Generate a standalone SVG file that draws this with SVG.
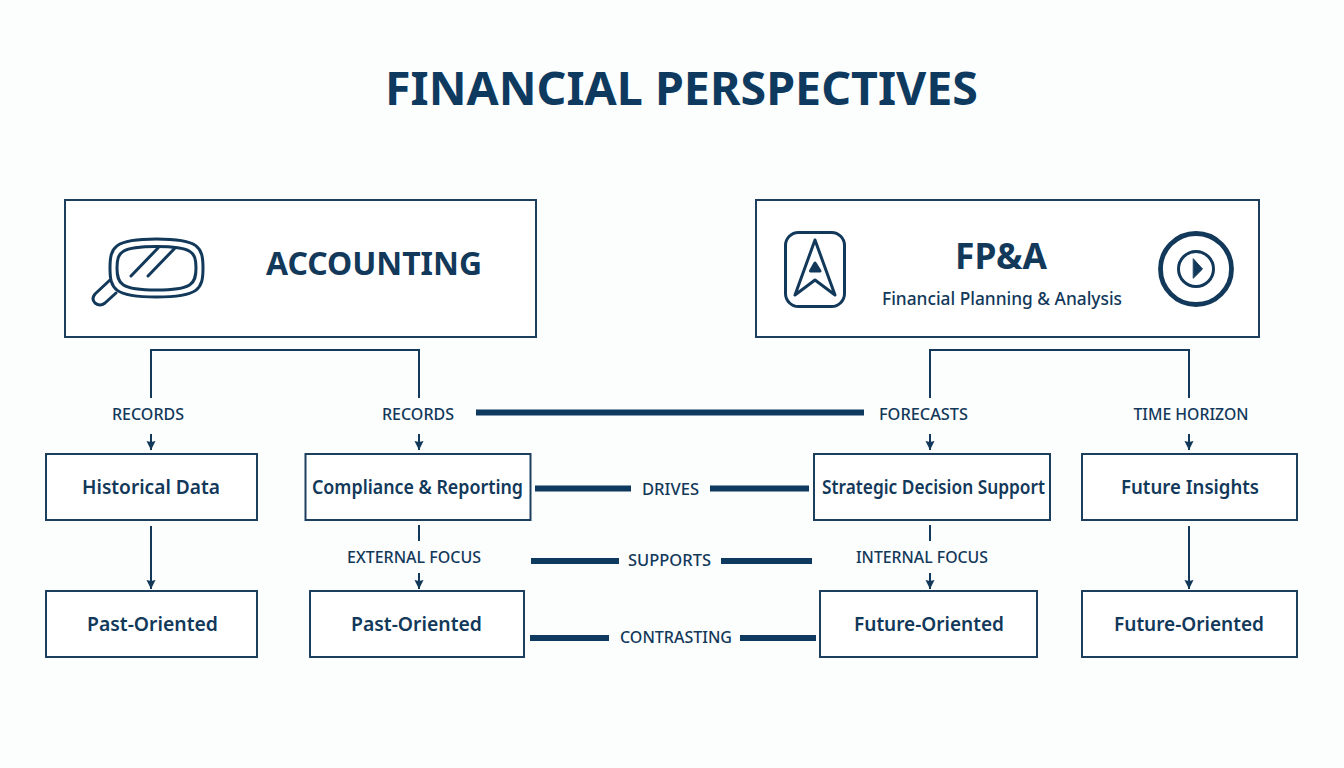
<svg xmlns="http://www.w3.org/2000/svg" width="1344" height="768" viewBox="0 0 1344 768">
<style>
text{font-family:"Noto Sans","Open Sans","Liberation Sans",sans-serif;fill:#12385a;text-anchor:middle}
.box{fill:#fff;stroke:#1c3f5e;stroke-width:2}
.n{font-size:19.500px;font-weight:600}
.l{font-size:16px;font-weight:500}
.t{fill:none;stroke:#12385a;stroke-width:2}
.b{fill:none;stroke:#0f3a5f;stroke-width:6}
.i{fill:none;stroke:#12385a;stroke-width:3;stroke-linejoin:round;stroke-linecap:round}
</style>
<defs><marker id="a" markerUnits="userSpaceOnUse" markerWidth="10" markerHeight="10" refX="9" refY="5" orient="auto"><path d="M0 .5L9 5L0 9.500L1 5Z" fill="#12385a"/></marker></defs>
<rect width="1344" height="768" fill="#fcfdfd"/>
<text id="title" x="681.500" y="105" font-size="46" font-weight="700" textLength="593" lengthAdjust="spacingAndGlyphs" style="fill:#0f3a5f">FINANCIAL PERSPECTIVES</text>
<g id="connectors">
<path class="t" d="M151 398V350H419V398M930 398V350H1189V398"/>
<path class="t" marker-end="url(#a)" d="M151 434V450"/>
<path class="t" marker-end="url(#a)" d="M419 434V450"/>
<path class="t" marker-end="url(#a)" d="M930 434V450"/>
<path class="t" marker-end="url(#a)" d="M1189 434V450"/>
<path class="t" marker-end="url(#a)" d="M151 526V589"/>
<path class="t" marker-end="url(#a)" d="M1189 526V589"/>
<path class="t" d="M419 525V541M930 525V541"/>
<path class="t" marker-end="url(#a)" d="M419 573V589"/>
<path class="t" marker-end="url(#a)" d="M930 573V589"/>
<path class="b" d="M476 412.500H864M535 488.500H631M710 488.500H809M531 561H619M721 561H812M530 638H609M740 638H816"/>
</g>
<g id="accounting"><rect class="box" x="65" y="200" width="471" height="137"/>
<g class="i"><path d="M110 268C110 247 114 239 156.500 239C199 239 203 247 203 268C203 289 199 297 156.500 297C114 297 110 289 110 268Z"/><path d="M117 268C117 252 121 246.500 156.500 246.500C192 246.500 196 252 196 268C196 284 192 290 156.500 290C121 290 117 284 117 268Z"/><path d="M131 276L158 248M148 276L175 248M110 280L95 294Q91 299 95 303Q100 307 105 303L116 293"/></g>
<text x="374" y="275" font-size="33" font-weight="700" textLength="216" lengthAdjust="spacingAndGlyphs">ACCOUNTING</text></g>
<g id="fpa"><rect class="box" x="756" y="200" width="503" height="137"/>
<g class="i"><rect x="785.500" y="232.500" width="59" height="74" rx="13"/><path d="M815 240L795 295L815 280L835 295Z"/><path d="M815 263L810.500 271H820Z" fill="#12385a"/></g>
<g class="i"><circle cx="1196" cy="269" r="35.500" stroke-width="4.800"/><circle cx="1196" cy="269" r="17.500" stroke-width="3"/><path d="M1193.500 259L1202.500 269L1193.500 278Z" fill="#12385a" stroke-width="1"/></g>
<text x="1001" y="269" font-size="35" font-weight="700" textLength="92" lengthAdjust="spacingAndGlyphs">FP&amp;A</text>
<text x="1002" y="305" font-size="17.500" font-weight="500" textLength="240" lengthAdjust="spacingAndGlyphs">Financial Planning &amp; Analysis</text></g>
<g id="historical"><rect class="box" x="46" y="454" width="211" height="66"/><text class="n" x="151" y="494" textLength="138" lengthAdjust="spacingAndGlyphs">Historical Data</text></g>
<g id="compliance"><rect class="box" x="305.500" y="454" width="225" height="66"/><text class="n" x="417.500" y="494" textLength="211" lengthAdjust="spacingAndGlyphs">Compliance &amp; Reporting</text></g>
<g id="strategic"><rect class="box" x="814" y="454" width="236" height="66"/><text class="n" x="933.500" y="494" textLength="223" lengthAdjust="spacingAndGlyphs">Strategic Decision Support</text></g>
<g id="insights"><rect class="box" x="1082" y="454" width="215" height="66"/><text class="n" x="1190" y="494" textLength="138" lengthAdjust="spacingAndGlyphs">Future Insights</text></g>
<g id="past1"><rect class="box" x="46" y="591" width="211" height="66"/><text class="n" x="152.500" y="631" textLength="131" lengthAdjust="spacingAndGlyphs">Past-Oriented</text></g>
<g id="past2"><rect class="box" x="310" y="591" width="214" height="66"/><text class="n" x="416.500" y="631" textLength="131" lengthAdjust="spacingAndGlyphs">Past-Oriented</text></g>
<g id="future1"><rect class="box" x="820" y="591" width="217" height="66"/><text class="n" x="929" y="631" textLength="150" lengthAdjust="spacingAndGlyphs">Future-Oriented</text></g>
<g id="future2"><rect class="box" x="1082" y="591" width="215" height="66"/><text class="n" x="1189" y="631" textLength="150" lengthAdjust="spacingAndGlyphs">Future-Oriented</text></g>
<g id="labels">
<text class="l" x="148" y="420" textLength="72" lengthAdjust="spacingAndGlyphs">RECORDS</text><text class="l" x="418" y="420" textLength="72" lengthAdjust="spacingAndGlyphs">RECORDS</text><text class="l" x="923.500" y="420" textLength="89" lengthAdjust="spacingAndGlyphs">FORECASTS</text><text class="l" x="1191" y="420" textLength="115" lengthAdjust="spacingAndGlyphs">TIME HORIZON</text>
<text class="l" x="414" y="563" textLength="134" lengthAdjust="spacingAndGlyphs">EXTERNAL FOCUS</text><text class="l" x="922" y="563" textLength="132" lengthAdjust="spacingAndGlyphs">INTERNAL FOCUS</text>
<text class="l" x="670.500" y="495" textLength="57" lengthAdjust="spacingAndGlyphs">DRIVES</text><text class="l" x="669.500" y="566" textLength="83" lengthAdjust="spacingAndGlyphs">SUPPORTS</text><text class="l" x="676" y="643" textLength="112" lengthAdjust="spacingAndGlyphs">CONTRASTING</text>
</g>
</svg>
